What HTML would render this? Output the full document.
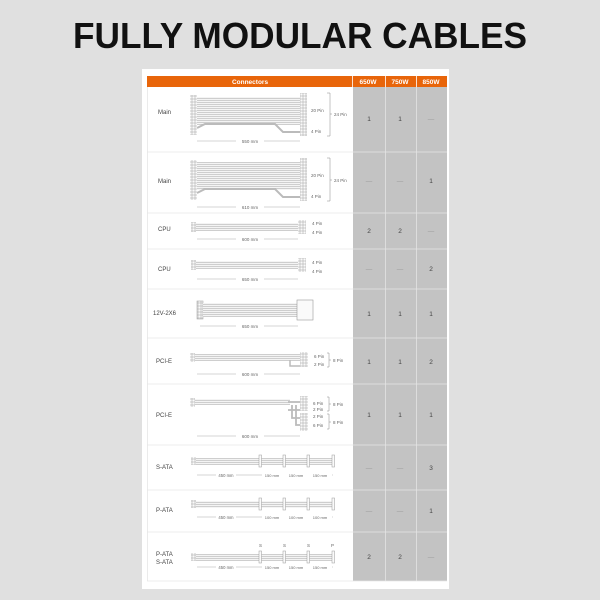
<!DOCTYPE html>
<html><head><meta charset="utf-8"><style>
html,body{margin:0;padding:0;background:#e0e0e0;}
svg{display:block;}
text{font-family:"Liberation Sans",Arial,sans-serif;}
</style></head><body>
<svg width="600" height="600" viewBox="0 0 600 600" xmlns="http://www.w3.org/2000/svg">
<defs>
<pattern id="st" width="4" height="2" patternUnits="userSpaceOnUse">
<rect width="4" height="2" fill="#f4f4f4"/><rect width="4" height="0.7" fill="#bdbdbd"/>
</pattern>
<pattern id="cn" width="3" height="3" patternUnits="userSpaceOnUse">
<rect width="3" height="3" fill="#fafafa"/><rect width="3" height="3" fill="none" stroke="#b0b0b0" stroke-width="0.6"/>
</pattern>
</defs>
<rect width="600" height="600" fill="#e0e0e0"/>
<text x="300" y="48" text-anchor="middle" font-size="36" font-weight="bold" fill="#111" textLength="454" lengthAdjust="spacingAndGlyphs">FULLY MODULAR CABLES</text>
<rect x="142" y="69" width="307" height="520" fill="#fff"/>
<!-- header -->
<rect x="147" y="76" width="300" height="11" fill="#e8650a"/>
<g fill="#fff" font-size="6.5" font-weight="bold" text-anchor="middle">
<text x="250" y="84">Connectors</text><text x="368" y="84">650W</text><text x="400" y="84">750W</text><text x="431" y="84">850W</text>
</g>
<line x1="352.5" y1="76" x2="352.5" y2="87" stroke="#fff" stroke-width="0.8"/>
<line x1="385.5" y1="76" x2="385.5" y2="87" stroke="#fff" stroke-width="0.8"/>
<line x1="416.5" y1="76" x2="416.5" y2="87" stroke="#fff" stroke-width="0.8"/>
<!-- gray columns -->
<rect x="353" y="87" width="94" height="494" fill="#c3c3c3"/>
<g stroke="#e4e4e4" stroke-width="0.8">
<line x1="385.5" y1="87" x2="385.5" y2="581"/><line x1="416.5" y1="87" x2="416.5" y2="581"/>
</g>
<g stroke="#e6e6e6" stroke-width="0.8">
<line x1="147" y1="152" x2="447" y2="152"/><line x1="147" y1="213" x2="447" y2="213"/>
<line x1="147" y1="249" x2="447" y2="249"/><line x1="147" y1="289" x2="447" y2="289"/>
<line x1="147" y1="338" x2="447" y2="338"/><line x1="147" y1="384" x2="447" y2="384"/>
<line x1="147" y1="445" x2="447" y2="445"/><line x1="147" y1="490" x2="447" y2="490"/>
<line x1="147" y1="532" x2="447" y2="532"/><line x1="147" y1="581" x2="447" y2="581"/>
<line x1="147.5" y1="87" x2="147.5" y2="581"/>
</g>
<!-- values -->
<g font-size="6.5" fill="#444" text-anchor="middle">
<text x="369" y="121">1</text><text x="400" y="121">1</text><text x="431" y="121" fill="#999">—</text>
<text x="369" y="183" fill="#999">—</text><text x="400" y="183" fill="#999">—</text><text x="431" y="183">1</text>
<text x="369" y="233">2</text><text x="400" y="233">2</text><text x="431" y="233" fill="#999">—</text>
<text x="369" y="271" fill="#999">—</text><text x="400" y="271" fill="#999">—</text><text x="431" y="271">2</text>
<text x="369" y="316">1</text><text x="400" y="316">1</text><text x="431" y="316">1</text>
<text x="369" y="364">1</text><text x="400" y="364">1</text><text x="431" y="364">2</text>
<text x="369" y="417">1</text><text x="400" y="417">1</text><text x="431" y="417">1</text>
<text x="369" y="470" fill="#999">—</text><text x="400" y="470" fill="#999">—</text><text x="431" y="470">3</text>
<text x="369" y="513" fill="#999">—</text><text x="400" y="513" fill="#999">—</text><text x="431" y="513">1</text>
<text x="369" y="559">2</text><text x="400" y="559">2</text><text x="431" y="559" fill="#999">—</text>
</g>
<!-- labels -->
<g font-size="6" fill="#444">
<text x="158" y="114">Main</text><text x="158" y="183">Main</text>
<text x="158" y="231">CPU</text><text x="158" y="271">CPU</text>
<text x="153" y="315">12V-2X6</text>
<text x="156" y="363">PCI-E</text><text x="156" y="417">PCI-E</text>
<text x="156" y="469">S-ATA</text><text x="156" y="512">P-ATA</text>
<text x="156" y="556">P-ATA</text><text x="156" y="564">S-ATA</text>
</g>
<g font-size="4.5" fill="#666">
<!-- Main 1 -->
<rect x="190" y="95" width="7" height="40" fill="url(#cn)"/>
<rect x="197" y="97" width="103" height="28" fill="url(#st)"/>
<path d="M197 128 L205 124 L275 124 L283 132 L300 132" fill="none" stroke="#bbb" stroke-width="2"/>
<rect x="300" y="93" width="7" height="43" fill="url(#cn)"/>
<text x="311" y="112">20 Pin</text><text x="311" y="133">4 Pin</text>
<path d="M327 93 L330 93 L330 136 L327 136 M330 114 L332 114" fill="none" stroke="#888" stroke-width="0.5"/>
<text x="334" y="116">24 Pin</text>
<line x1="197" y1="141" x2="300" y2="141" stroke="#aaa" stroke-width="0.5"/><rect x="236" y="138" width="28" height="6" fill="#fff"/>
<text x="250" y="143" text-anchor="middle">550 mm</text>
<!-- Main 2 -->
<rect x="190" y="160" width="7" height="40" fill="url(#cn)"/>
<rect x="197" y="162" width="103" height="28" fill="url(#st)"/>
<path d="M197 193 L205 189 L275 189 L283 197 L300 197" fill="none" stroke="#bbb" stroke-width="2"/>
<rect x="300" y="158" width="7" height="43" fill="url(#cn)"/>
<text x="311" y="177">20 Pin</text><text x="311" y="198">4 Pin</text>
<path d="M327 158 L330 158 L330 201 L327 201 M330 180 L332 180" fill="none" stroke="#888" stroke-width="0.5"/>
<text x="334" y="182">24 Pin</text>
<line x1="197" y1="207" x2="300" y2="207" stroke="#aaa" stroke-width="0.5"/><rect x="236" y="204" width="28" height="6" fill="#fff"/>
<text x="250" y="209" text-anchor="middle">610 mm</text>
<!-- CPU 1 -->
<rect x="191" y="222" width="5" height="10" fill="url(#cn)"/>
<rect x="196" y="223" width="102" height="8" fill="url(#st)"/>
<rect x="298" y="220" width="8" height="14" fill="url(#cn)"/>
<text x="312" y="225">4 Pin</text><text x="312" y="234">4 Pin</text>
<line x1="197" y1="239" x2="298" y2="239" stroke="#aaa" stroke-width="0.5"/><rect x="236" y="236" width="28" height="6" fill="#fff"/>
<text x="250" y="241" text-anchor="middle">600 mm</text>
<!-- CPU 2 -->
<rect x="191" y="260" width="5" height="10" fill="url(#cn)"/>
<rect x="196" y="261" width="102" height="8" fill="url(#st)"/>
<rect x="298" y="258" width="8" height="14" fill="url(#cn)"/>
<text x="312" y="264">4 Pin</text><text x="312" y="273">4 Pin</text>
<line x1="197" y1="279" x2="298" y2="279" stroke="#aaa" stroke-width="0.5"/><rect x="236" y="276" width="28" height="6" fill="#fff"/>
<text x="250" y="281" text-anchor="middle">650 mm</text>
<!-- 12V -->
<rect x="197" y="301" width="6" height="18" fill="url(#cn)" stroke="#999" stroke-width="0.5"/>
<rect x="203" y="303" width="94" height="14" fill="url(#st)"/>
<rect x="297" y="300" width="16" height="20" fill="#fafafa" stroke="#999" stroke-width="0.6"/>
<line x1="200" y1="326" x2="298" y2="326" stroke="#aaa" stroke-width="0.5"/><rect x="236" y="323" width="28" height="6" fill="#fff"/>
<text x="250" y="328" text-anchor="middle">650 mm</text>
<!-- PCI-E 1 -->
<rect x="190" y="353" width="5" height="9" fill="url(#cn)"/>
<rect x="195" y="354" width="105" height="7" fill="url(#st)"/>
<path d="M290 360 L290 366 L300 366" fill="none" stroke="#bbb" stroke-width="1.5"/>
<rect x="300" y="352" width="8" height="15" fill="url(#cn)"/>
<text x="314" y="358">6 Pin</text><text x="314" y="366">2 Pin</text>
<path d="M327 353 L329 353 L329 367 L327 367 M329 360 L331 360" fill="none" stroke="#888" stroke-width="0.5"/>
<text x="333" y="362">8 Pin</text>
<line x1="197" y1="374" x2="300" y2="374" stroke="#aaa" stroke-width="0.5"/><rect x="236" y="371" width="28" height="6" fill="#fff"/>
<text x="250" y="376" text-anchor="middle">600 mm</text>
<!-- PCI-E 2 -->
<rect x="190" y="398" width="5" height="9" fill="url(#cn)"/>
<rect x="195" y="399" width="95" height="6" fill="url(#st)"/>
<path d="M288 402 L300 402 M292 405 L292 418 L300 418 M296 405 L296 425 L300 425 M288 410 L300 410" fill="none" stroke="#bbb" stroke-width="1.8"/>
<rect x="300" y="396" width="8" height="15" fill="url(#cn)"/>
<rect x="300" y="413" width="8" height="18" fill="url(#cn)"/>
<text x="313" y="405">6 Pin</text><text x="313" y="411">2 Pin</text>
<text x="313" y="418">2 Pin</text><text x="313" y="427">6 Pin</text>
<path d="M327 397 L329 397 L329 411 L327 411 M329 404 L331 404 M327 414 L329 414 L329 429 L327 429 M329 422 L331 422" fill="none" stroke="#888" stroke-width="0.5"/>
<text x="333" y="406">8 Pin</text><text x="333" y="424">8 Pin</text>
<line x1="197" y1="436" x2="300" y2="436" stroke="#aaa" stroke-width="0.5"/><rect x="236" y="433" width="28" height="6" fill="#fff"/>
<text x="250" y="438" text-anchor="middle">600 mm</text>
<!-- S-ATA -->
<rect x="191" y="457" width="5" height="8" fill="url(#cn)"/>
<rect x="196" y="458" width="137" height="7" fill="url(#st)"/>
<g fill="#fafafa" stroke="#999" stroke-width="0.5">
<rect x="259" y="455" width="2.5" height="12"/><rect x="283" y="455" width="2.5" height="12"/><rect x="307" y="455" width="2.5" height="12"/><rect x="332" y="455" width="2.5" height="12"/>
</g>
<line x1="197" y1="475" x2="333" y2="475" stroke="#aaa" stroke-width="0.5"/>
<rect x="216" y="472" width="20" height="6" fill="#fff"/><rect x="262" y="472" width="70" height="6" fill="#fff"/>
<text x="226" y="477" text-anchor="middle" font-size="4.2">450 mm</text>
<text x="272" y="477" text-anchor="middle" font-size="4">150 mm</text><text x="296" y="477" text-anchor="middle" font-size="4">150 mm</text><text x="320" y="477" text-anchor="middle" font-size="4">150 mm</text>
<!-- P-ATA -->
<rect x="191" y="500" width="5" height="8" fill="url(#cn)"/>
<rect x="196" y="501" width="137" height="7" fill="url(#st)"/>
<g fill="#fafafa" stroke="#999" stroke-width="0.5">
<rect x="259" y="498" width="2.5" height="12"/><rect x="283" y="498" width="2.5" height="12"/><rect x="307" y="498" width="2.5" height="12"/><rect x="332" y="498" width="2.5" height="12"/>
</g>
<line x1="197" y1="517" x2="333" y2="517" stroke="#aaa" stroke-width="0.5"/>
<rect x="216" y="514" width="20" height="6" fill="#fff"/><rect x="262" y="514" width="70" height="6" fill="#fff"/>
<text x="226" y="519" text-anchor="middle" font-size="4.2">450 mm</text>
<text x="272" y="519" text-anchor="middle" font-size="4">100 mm</text><text x="296" y="519" text-anchor="middle" font-size="4">100 mm</text><text x="320" y="519" text-anchor="middle" font-size="4">100 mm</text>
<!-- combined -->
<text x="259" y="547">S</text><text x="283" y="547">S</text><text x="307" y="547">S</text><text x="331" y="547">P</text>
<rect x="191" y="553" width="5" height="8" fill="url(#cn)"/>
<rect x="196" y="554" width="137" height="7" fill="url(#st)"/>
<g fill="#fafafa" stroke="#999" stroke-width="0.5">
<rect x="259" y="551" width="2.5" height="12"/><rect x="283" y="551" width="2.5" height="12"/><rect x="307" y="551" width="2.5" height="12"/><rect x="332" y="551" width="2.5" height="12"/>
</g>
<line x1="197" y1="567" x2="333" y2="567" stroke="#aaa" stroke-width="0.5"/>
<rect x="216" y="564" width="20" height="6" fill="#fff"/><rect x="262" y="564" width="70" height="6" fill="#fff"/>
<text x="226" y="569" text-anchor="middle" font-size="4.2">450 mm</text>
<text x="272" y="569" text-anchor="middle" font-size="4">150 mm</text><text x="296" y="569" text-anchor="middle" font-size="4">150 mm</text><text x="320" y="569" text-anchor="middle" font-size="4">150 mm</text>
</g>
</svg>
</body></html>
